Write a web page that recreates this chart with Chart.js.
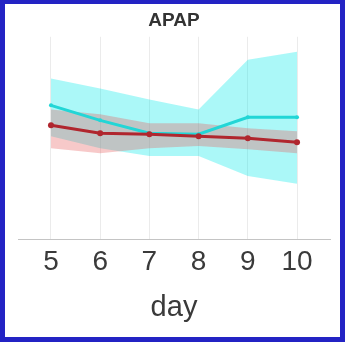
<!DOCTYPE html>
<html>
<head>
<meta charset="utf-8">
<script src="https://cdn.jsdelivr.net/npm/chart.js@4"></script>
<style>
  html, body { margin: 0; padding: 0; }
  body { width: 345px; height: 342px; background: #2323c4; position: relative; overflow: hidden; }
  #frame { position: absolute; left: 5px; top: 4px; width: 335px; height: 333px; background: #ffffff; }
  canvas { display: block; }
</style>
</head>
<body>
<div id="frame"><canvas id="c" width="335" height="333"></canvas></div>
<script>
const days = [5, 6, 7, 8, 9, 10];
const cyanMean  = [66.2, 58.8, 52.5, 52.0, 60.3, 60.3];
const cyanUpper = [79.4, 74.5, 69.1, 64.2, 88.7, 92.6];
const cyanLower = [51.0, 45.1, 41.2, 41.2, 31.4, 27.5];
const redMean   = [56.4, 52.5, 52.0, 51.0, 50.0, 48.0];
const redUpper  = [64.2, 61.8, 57.4, 57.4, 54.9, 53.4];
const redLower  = [45.1, 42.6, 45.1, 46.1, 44.6, 42.6];
const chartTitle = 'APAP';
const xTitle = 'day';

const pts = arr => days.map((d, i) => ({ x: d, y: arr[i] }));
const FONT = 'Liberation Sans, Arial, sans-serif';

new Chart(document.getElementById('c'), {
  type: 'line',
  data: {
    datasets: [
      { data: pts(cyanLower), borderWidth: 0, pointRadius: 0, borderColor: 'rgba(0,0,0,0)', fill: false, order: 6 },
      { data: pts(cyanUpper), borderWidth: 0, pointRadius: 0, borderColor: 'rgba(0,0,0,0)', fill: 0, backgroundColor: 'rgba(0,235,235,0.33)', order: 5 },
      { data: pts(redLower), borderWidth: 0, pointRadius: 0, borderColor: 'rgba(0,0,0,0)', fill: false, order: 4 },
      { data: pts(redUpper), borderWidth: 0, pointRadius: 0, borderColor: 'rgba(0,0,0,0)', fill: 2, backgroundColor: 'rgba(230,90,90,0.33)', order: 3 },
      { data: pts(cyanMean), borderWidth: 3, borderColor: '#22d6d6', pointRadius: 2, pointBackgroundColor: '#22d6d6', pointBorderWidth: 0, fill: false, order: 2 },
      { data: pts(redMean), borderWidth: 3, borderColor: '#b0262e', pointRadius: 3, pointBackgroundColor: '#b0262e', pointBorderWidth: 0, fill: false, order: 1 }
    ]
  },
  options: {
    responsive: false,
    animation: false,
    layout: { padding: { left: 13, right: 10, top: 0, bottom: 0 } },
    plugins: {
      legend: { display: false },
      tooltip: { enabled: false },
      title: {
        display: true, text: chartTitle, color: '#333333',
        font: { family: FONT, size: 19, weight: 'bold' },
        padding: { top: 5, bottom: 5 }
      }
    },
    scales: {
      x: {
        type: 'linear', min: 4.33, max: 10.67,
        afterBuildTicks: s => { s.ticks = days.map(v => ({ value: v })); },
        grid: { color: '#ebebeb', lineWidth: 1, drawTicks: false },
        border: { display: true, color: '#c4c4c4', width: 1 },
        ticks: { color: '#3a3a3a', padding: 6, font: { family: FONT, size: 28 } },
        title: { display: true, text: xTitle, color: '#3a3a3a', font: { family: FONT, size: 29 }, padding: { top: 5, bottom: 12 } }
      },
      y: { display: false, min: 0, max: 100 }
    }
  }
});
</script>
</body>
</html>
